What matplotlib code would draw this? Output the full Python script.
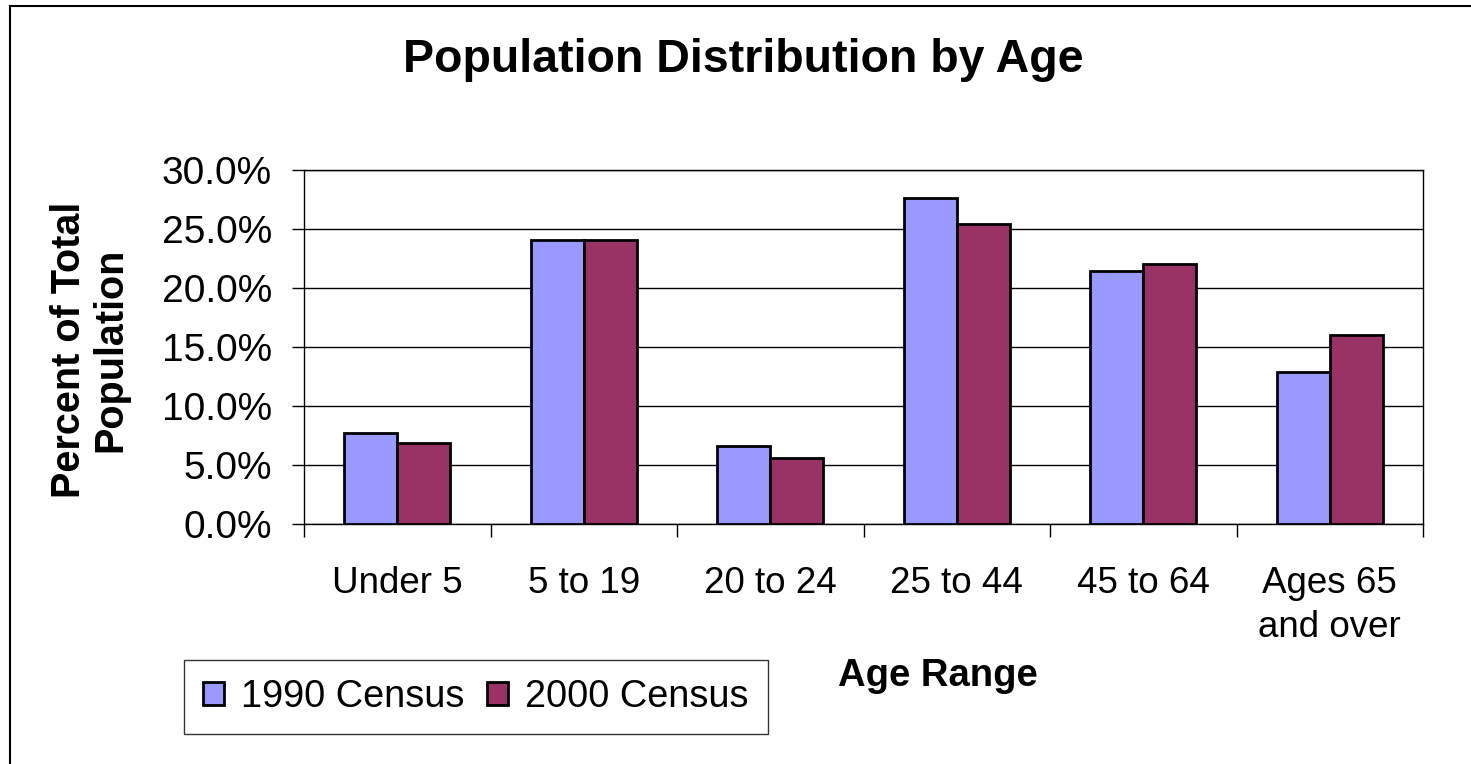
import numpy as np
from matplotlib import pyplot as plt
from matplotlib.lines import Line2D

plt.rcParams['font.family'] = ['Liberation Sans', 'DejaVu Sans']

age_ranges = ["Under 5", "5 to 19", "20 to 24", "25 to 44", "45 to 64", "Ages 65\nand over"]
census_1990 = [7.7, 24.1, 6.6, 27.6, 21.4, 12.9]
census_2000 = [6.9, 24.1, 5.6, 25.4, 22.0, 16.0]
yticks = [0, 5, 10, 15, 20, 25, 30]

fig = plt.figure(figsize=(14.71, 7.64), dpi=100)
ax = fig.add_axes([304/1471, 1-524/764, (1423-304)/1471, (524-170)/764])

x = np.arange(len(age_ranges))
w = 0.285
ax.bar(x - w/2, census_1990, w, color="#9999FF", edgecolor="black", linewidth=2.0, label="1990 Census", zorder=3)
ax.bar(x + w/2, census_2000, w, color="#993366", edgecolor="black", linewidth=2.0, label="2000 Census", zorder=3)

ax.set_xlim(-0.5, len(age_ranges) - 0.5)
ax.set_ylim(0, 30)
ax.set_yticks(yticks)
ax.set_yticklabels(["%.1f%%" % v for v in yticks], fontsize=28)
ax.yaxis.grid(True, color="black", linewidth=1.0, zorder=0)
ax.set_xticks(x)
ax.set_xticklabels(age_ranges, fontsize=26.5, linespacing=1.35)
ax.set_xticks(np.arange(len(age_ranges) + 1) - 0.5, minor=True)
ax.tick_params(axis="x", which="major", length=0, pad=30)
ax.tick_params(axis="x", which="minor", length=9, width=1, direction="out")
ax.tick_params(axis="y", length=9, width=1, direction="out", pad=14)
for s in ax.spines.values():
    s.set_color("black")
    s.set_linewidth(1.0)

fig.text(743/1471, 1-60/764, "Population Distribution by Age", fontsize=33.5, fontweight="bold",
         ha="center", va="center")
fig.text(90/1471, 1-350/764, "Percent of Total\nPopulation", fontsize=28.5, fontweight="bold",
         ha="center", va="center", rotation=90, linespacing=1.1)
fig.text(938/1471, 1-676/764, "Age Range", fontsize=27.5, fontweight="bold", ha="center", va="center")

leg = fig.legend(loc="center", bbox_to_anchor=(476/1471, 1-697/764), ncol=2, fontsize=27.3,
                 frameon=True, fancybox=False, edgecolor="black", handlelength=0.55, handleheight=0.55,
                 handletextpad=0.45, columnspacing=0.6, borderpad=0.5)
leg.get_frame().set_linewidth(1.0)

# outer chart frame (only left and top edges are visible)
fig.add_artist(Line2D([10/1471, 10/1471], [0, 1-6/764], color="black", linewidth=1.5))
fig.add_artist(Line2D([10/1471, 1], [1-6/764, 1-6/764], color="black", linewidth=1.5))

fig.savefig("out.png", dpi=100)
